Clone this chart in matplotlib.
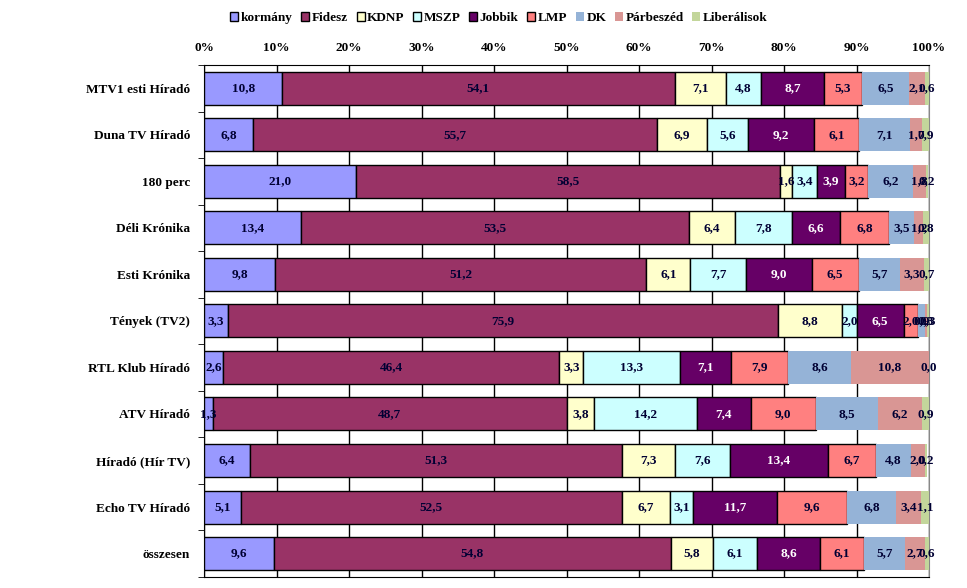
import numpy as np
import matplotlib.pyplot as plt
from matplotlib.ticker import FixedLocator, PercentFormatter

plt.rcParams['font.family'] = ['Liberation Serif', 'DejaVu Serif']

# műsorok (felülről lefelé)
shows = ['MTV1 esti Híradó', 'Duna TV Híradó', '180 perc', 'Déli Krónika',
         'Esti Krónika', 'Tények (TV2)', 'RTL Klub Híradó', 'ATV Híradó',
         'Híradó (Hír TV)', 'Echo TV Híradó', 'összesen']

parties = ['kormány', 'Fidesz', 'KDNP', 'MSZP', 'Jobbik', 'LMP', 'DK',
           'Párbeszéd', 'Liberálisok']

kormany = [10.8, 6.8, 21.0, 13.4, 9.8, 3.3, 2.6, 1.3, 6.4, 5.1, 9.6]
fidesz = [54.1, 55.7, 58.5, 53.5, 51.2, 75.9, 46.4, 48.7, 51.3, 52.5, 54.8]
kdnp = [7.1, 6.9, 1.6, 6.4, 6.1, 8.8, 3.3, 3.8, 7.3, 6.7, 5.8]
mszp = [4.8, 5.6, 3.4, 7.8, 7.7, 2.0, 13.3, 14.2, 7.6, 3.1, 6.1]
jobbik = [8.7, 9.2, 3.9, 6.6, 9.0, 6.5, 7.1, 7.4, 13.4, 11.7, 8.6]
lmp = [5.3, 6.1, 3.2, 6.8, 6.5, 2.0, 7.9, 9.0, 6.7, 9.6, 6.1]
dk = [6.5, 7.1, 6.2, 3.5, 5.7, 0.9, 8.6, 8.5, 4.8, 6.8, 5.7]
parbeszed = [2.1, 1.7, 1.8, 1.2, 3.3, 0.3, 10.8, 6.2, 2.0, 3.4, 2.7]
liberalisok = [0.6, 0.9, 0.2, 0.8, 0.7, 0.3, 0.0, 0.9, 0.2, 1.1, 0.6]

series = [kormany, fidesz, kdnp, mszp, jobbik, lmp, dk, parbeszed, liberalisok]
colors = ['#9999FF', '#993366', '#FFFFCC', '#CCFFFF', '#660066', '#FF8080',
          '#95B3D7', '#D99694', '#C3D69B']
edges = ['black'] * 6 + ['none'] * 3
text_colors = ['#000033'] * 4 + ['white'] + ['#000033'] * 4

fig = plt.figure(figsize=(9.67, 5.88), dpi=100)
ax = fig.add_axes([0.211, 0.019, 0.7497, 0.8705])

y = np.arange(len(shows))
left = np.zeros(len(shows))
for vals, name, col, ec, tc in zip(series, parties, colors, edges, text_colors):
    vals = np.array(vals)
    bars = ax.barh(y, vals, left=left, height=0.71, color=col, edgecolor=ec,
                   linewidth=1.0, label=name, zorder=3)
    ax.bar_label(bars, labels=[f'{v:.1f}'.replace('.', ',') for v in vals],
                 label_type='center', color=tc, fontsize=9.5,
                 fontweight='bold', zorder=4)
    left += vals

ax.set_xlim(0, 100)
ax.set_ylim(len(shows) - 0.5, -0.5)
ax.xaxis.set_major_locator(FixedLocator(np.arange(0, 101, 10)))
ax.xaxis.set_major_formatter(PercentFormatter(decimals=0))
ax.xaxis.tick_top()
ax.tick_params(axis='x', length=0, labelsize=9.5, pad=8)
for lbl in ax.get_xticklabels():
    lbl.set_fontweight('bold')
ax.grid(axis='x', color='black', linewidth=1.0, zorder=0)

ax.set_yticks(y)
ax.set_yticklabels(shows, fontsize=9.5, fontweight='bold')
ax.tick_params(axis='y', which='major', length=0, pad=10)
ax.yaxis.set_minor_locator(FixedLocator(np.arange(-0.5, len(shows), 1)))
ax.tick_params(axis='y', which='minor', length=4, direction='out')

for s in ['top', 'bottom', 'left']:
    ax.spines[s].set_color('black')
ax.spines['right'].set_color('#888888')

fig.legend(loc='center', bbox_to_anchor=(0.516, 0.969), ncol=9,
           frameon=False, handlelength=0.6, handleheight=0.6,
           handletextpad=0.2, columnspacing=0.65,
           prop={'weight': 'bold', 'size': 9.5})

fig.savefig('out.png', dpi=100)
